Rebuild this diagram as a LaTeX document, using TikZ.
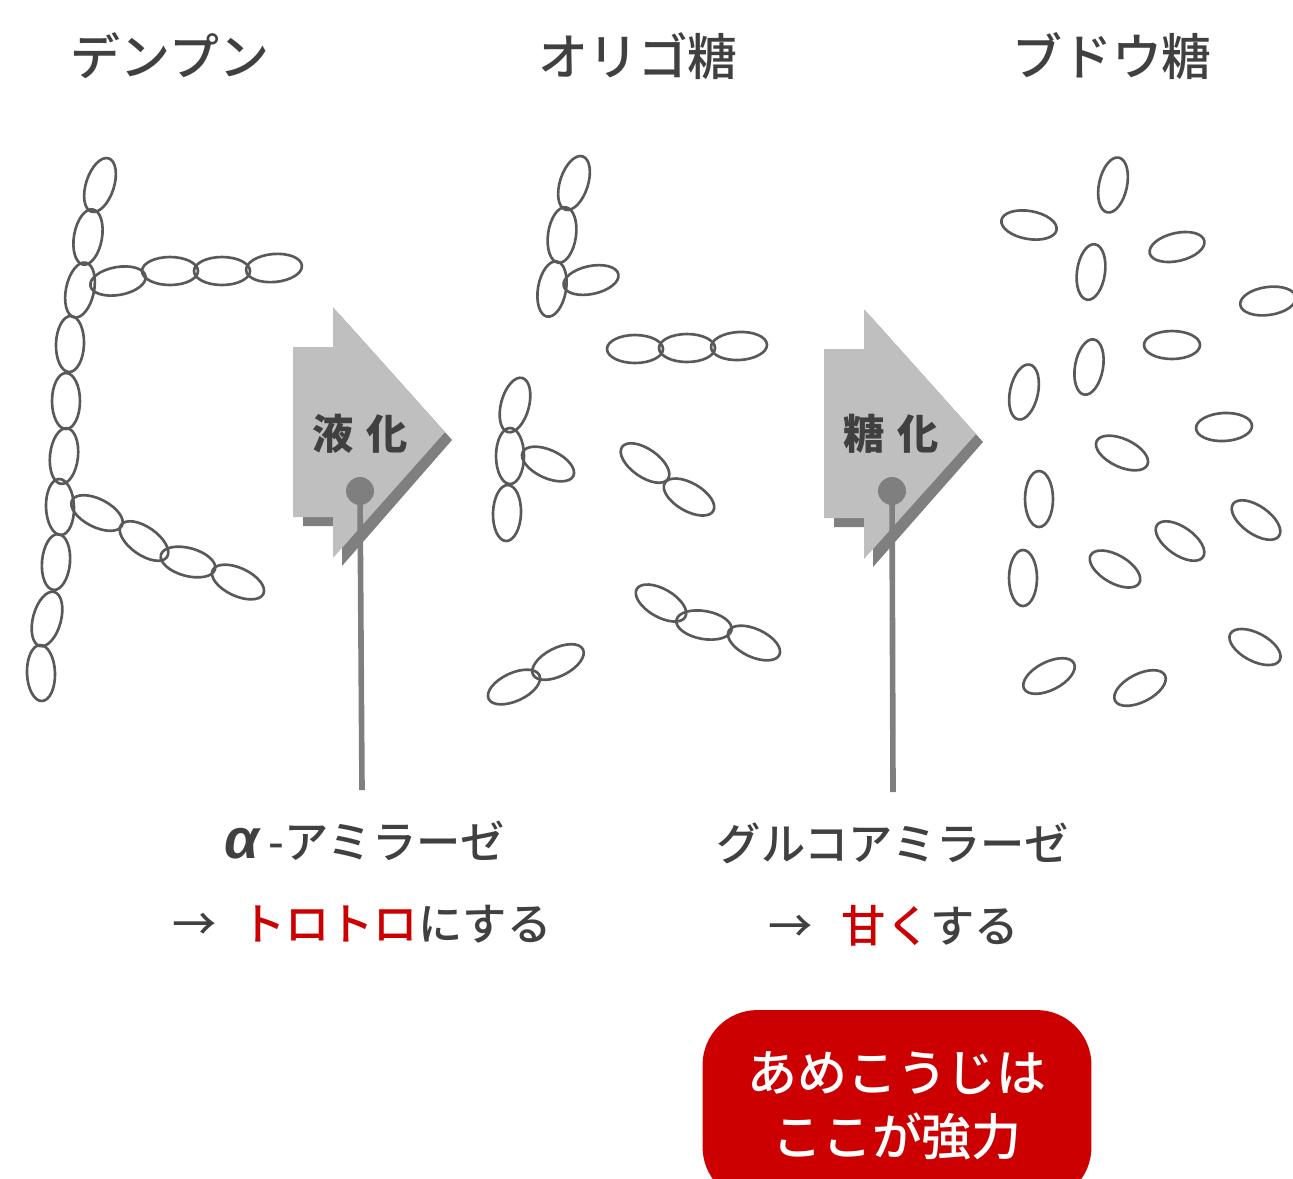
\documentclass[tikz,border=0pt]{standalone}
\usepackage{fontspec}
\setmainfont{Noto Sans CJK JP Medium}
\newfontfamily\stagefont{Noto Sans CJK JP}
\newfontfamily\greekfont{Liberation Sans}
\definecolor{inkgray}{HTML}{404040}
\definecolor{grainline}{HTML}{595959}
\definecolor{enzred}{HTML}{CC0000}
\definecolor{arrowgray}{HTML}{BFBFBF}
\definecolor{pingray}{HTML}{7F7F7F}
\tikzset{
	grain/.style = {x radius = 28, y radius = 14},
	grainpath/.style = {draw = grainline, line width = 1.5pt},
	stagetitle/.style = {text = inkgray, font = \fontsize{28.4}{34}\selectfont},
	enzyme/.style = {text = inkgray, font = \fontsize{25.2}{30}\selectfont},
	stagebody/.style = {fill = arrowgray},
	stageshade/.style = {fill = pingray},
	stagename/.style = {text = inkgray, font = \fontsize{23.5}{28}\selectfont\stagefont\bfseries},
	pinhead/.style = {circle, fill = pingray, minimum size = .56cm, inner sep = 0pt},
	pinline/.style = {draw = pingray, line width = 3.2pt}
}
\begin{document}
\begin{tikzpicture}[x = .02cm, y = -.02cm]
	\clip (0,0) rectangle (1293,1178);

	\node [stagetitle] (starch) at (170,56) {デンプン};
	\node [stagetitle] (oligo) at (638,56) {オリゴ糖};
	\node [stagetitle] (glucose) at (1112,56) {ブドウ糖};

	% starch chain
	\draw [grainpath] (100,185) ellipse [grain, rotate = 72];
	\draw [grainpath] (88,237) ellipse [grain, rotate = 80];
	\draw [grainpath] (80,290) ellipse [grain, rotate = 78];
	\draw [grainpath] (70,344) ellipse [grain, rotate = 88];
	\draw [grainpath] (66,401) ellipse [grain, rotate = 90];
	\draw [grainpath] (64,456) ellipse [grain, rotate = 84];
	\draw [grainpath] (60,507) ellipse [grain, rotate = 92];
	\draw [grainpath] (56,562) ellipse [grain, rotate = 85];
	\draw [grainpath] (47,619) ellipse [grain, rotate = 75];
	\draw [grainpath] (41,673) ellipse [grain, rotate = 92];
	\draw [grainpath] (118,281) ellipse [grain, rotate = 10];
	\draw [grainpath] (170,271) ellipse [grain, rotate = 0];
	\draw [grainpath] (222,271) ellipse [grain, rotate = 0];
	\draw [grainpath] (274,268) ellipse [grain, rotate = 5];
	\draw [grainpath] (97,513) ellipse [grain, rotate = -27];
	\draw [grainpath] (144,541) ellipse [grain, rotate = -35];
	\draw [grainpath] (188,562) ellipse [grain, rotate = -15];
	\draw [grainpath] (238,582) ellipse [grain, rotate = -25];

	% oligosaccharide pieces
	\draw [grainpath] (574,183) ellipse [grain, rotate = 72];
	\draw [grainpath] (562,235) ellipse [grain, rotate = 82];
	\draw [grainpath] (552,289) ellipse [grain, rotate = 80];
	\draw [grainpath] (591,280) ellipse [grain, rotate = 12];
	\draw [grainpath] (635,349) ellipse [grain, rotate = 0];
	\draw [grainpath] (687,348) ellipse [grain, rotate = 0];
	\draw [grainpath] (739,346) ellipse [grain, rotate = 3];
	\draw [grainpath] (515,405) ellipse [grain, rotate = 75];
	\draw [grainpath] (510,456) ellipse [grain, rotate = 90];
	\draw [grainpath] (507,513) ellipse [grain, rotate = 88];
	\draw [grainpath] (548,464) ellipse [grain, rotate = -25];
	\draw [grainpath] (645,463) ellipse [grain, rotate = -35];
	\draw [grainpath] (689,497) ellipse [grain, rotate = -30];
	\draw [grainpath] (661,603) ellipse [grain, rotate = -30];
	\draw [grainpath] (704,625) ellipse [grain, rotate = -10];
	\draw [grainpath] (754,643) ellipse [grain, rotate = -25];
	\draw [grainpath] (514,687) ellipse [grain, rotate = 25];
	\draw [grainpath] (558,662) ellipse [grain, rotate = 27];

	% single glucose units
	\draw [grainpath] (1113,185) ellipse [grain, rotate = 78];
	\draw [grainpath] (1029,225) ellipse [grain, rotate = -10];
	\draw [grainpath] (1177,247) ellipse [grain, rotate = 13];
	\draw [grainpath] (1091,272) ellipse [grain, rotate = 82];
	\draw [grainpath] (1268,301) ellipse [grain, rotate = 8];
	\draw [grainpath] (1172,345) ellipse [grain, rotate = 0];
	\draw [grainpath] (1089,367) ellipse [grain, rotate = 80];
	\draw [grainpath] (1024,392) ellipse [grain, rotate = 78];
	\draw [grainpath] (1224,427) ellipse [grain, rotate = 3];
	\draw [grainpath] (1122,453) ellipse [grain, rotate = -25];
	\draw [grainpath] (1039,499) ellipse [grain, rotate = 90];
	\draw [grainpath] (1256,520) ellipse [grain, rotate = -35];
	\draw [grainpath] (1180,541) ellipse [grain, rotate = -35];
	\draw [grainpath] (1023,578) ellipse [grain, rotate = 90];
	\draw [grainpath] (1115,569) ellipse [grain, rotate = -30];
	\draw [grainpath] (1255,647) ellipse [grain, rotate = -28];
	\draw [grainpath] (1049,676) ellipse [grain, rotate = 27];
	\draw [grainpath] (1140,688) ellipse [grain, rotate = 27];

	% the two process arrows
	\fill [stageshade] (303,355) -- (340,355) -- (340,315) -- (452,440) -- (342,566) -- (342,526) -- (303,526) -- cycle;
	\fill [stagebody] (293,347) -- (333,347) -- (333,307) -- (445,432) -- (333,558) -- (333,517) -- (293,517) -- cycle;
	\fill [stageshade] (834,357) -- (871,357) -- (871,317) -- (983,442) -- (873,567) -- (873,527) -- (834,527) -- cycle;
	\fill [stagebody] (824,349) -- (864,349) -- (864,309) -- (976,434) -- (864,559) -- (864,518) -- (824,518) -- cycle;

	\node [stagename] (liquefy) at (360,434) {液\hspace{.3em}化};
	\node [stagename] (saccharify) at (891,434) {糖\hspace{.3em}化};

	\node [pinhead] (amylasepin) at (360,491) {};
	\coordinate (amylaseend) at (362,790);
	\draw [pinline] (amylasepin.center) -- (amylaseend);
	\node [pinhead] (glucopin) at (892,491) {};
	\coordinate (glucoend) at (893,792);
	\draw [pinline] (glucopin.center) -- (glucoend);

	\node [enzyme] (amylase) at (365,841) {{\greekfont\fontsize{32}{32}\selectfont\bfseries\itshape α}\hspace{.2em}-アミラーゼ};
	\node [enzyme] (glucoamylase) at (893,843) {グルコアミラーゼ};
	\node [enzyme] (thicken) at (362,924) {→\hspace{.55em}\textcolor{enzred}{トロトロ}にする};
	\node [enzyme] (sweeten) at (894,926) {→\hspace{.65em}\textcolor{enzred}{甘く}する};

	\node [fill = enzred, rounded corners = 1.1cm, minimum width = 7.78cm, minimum height = 3.84cm, text = white, align = center, font = \fontsize{28.4}{36.4}\selectfont] (koji) at (897,1106) {あめこうじは\\ここが強力};
\end{tikzpicture}
\end{document}
